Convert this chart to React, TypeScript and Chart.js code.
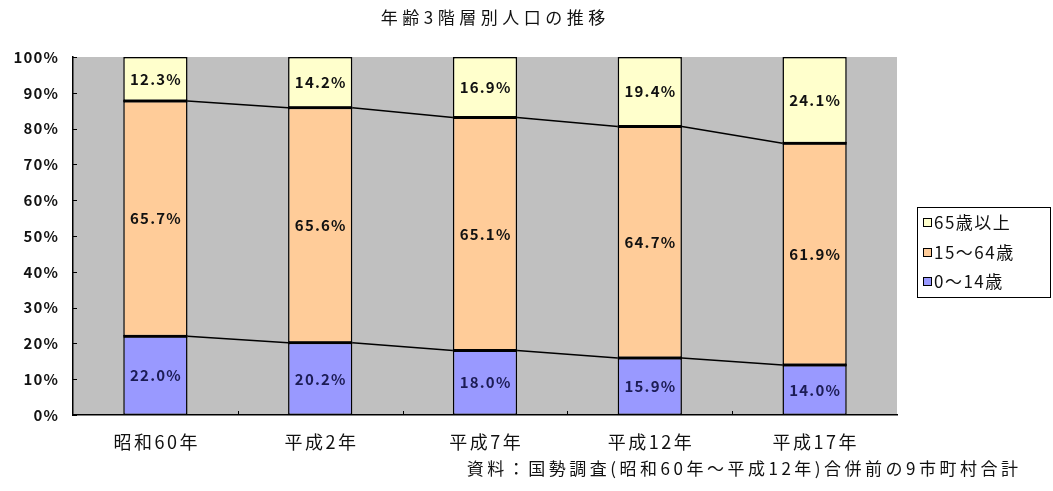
import React, { useEffect, useRef } from "react";
import { Chart, registerables } from "chart.js";

Chart.register(...registerables);

const categories = ["昭和60年", "平成2年", "平成7年", "平成12年", "平成17年"];
const age0to14 = [22.0, 20.2, 18.0, 15.9, 14.0];
const age15to64 = [65.7, 65.6, 65.1, 64.7, 61.9];
const age65plus = [12.3, 14.2, 16.9, 19.4, 24.1];
const seriesNames = ["0～14歳", "15～64歳", "65歳以上"];
const seriesColors = ["#9999FF", "#FFCC99", "#FFFFCC"];
const yTicks = [0, 10, 20, 30, 40, 50, 60, 70, 80, 90, 100];
const titleText = "年齢3階層別人口の推移";
const sourceText = "資料：国勢調査(昭和60年～平成12年)合併前の9市町村合計";

const FONT = '"Noto Sans CJK JP", "Noto Sans", sans-serif';

function spacedText(ctx: any, text: string, x: number, y: number, spacing: number, align: string) {
  ctx.letterSpacing = spacing + "px";
  const w = ctx.measureText(text).width - spacing;
  let sx = x;
  if (align === "center") sx = x - w / 2;
  else if (align === "right") sx = x - w;
  ctx.textAlign = "left";
  ctx.fillText(text, sx, y);
  ctx.letterSpacing = "0px";
}

const decorPlugin = {
  id: "decor",
  beforeDraw(chart: any) {
    const { ctx, chartArea } = chart;
    ctx.save();
    ctx.fillStyle = "#ffffff";
    ctx.fillRect(0, 0, chart.width, chart.height);
    ctx.fillStyle = "#C0C0C0";
    ctx.fillRect(chartArea.left, chartArea.top, chartArea.right - chartArea.left, chartArea.bottom - chartArea.top);
    ctx.restore();
  },
  afterDatasetsDraw(chart: any) {
    const { ctx, chartArea } = chart;
    ctx.save();
    // series lines between stacked segment tops, and segment boundaries
    ctx.strokeStyle = "#000000";
    for (let d = 0; d < 2; d++) {
      const meta = chart.getDatasetMeta(d);
      for (let i = 0; i < meta.data.length; i++) {
        const a = meta.data[i] as any;
        ctx.lineWidth = 2.5;
        ctx.beginPath();
        ctx.moveTo(a.x - a.width / 2, a.y);
        ctx.lineTo(a.x + a.width / 2, a.y);
        ctx.stroke();
        if (i < meta.data.length - 1) {
          const b = meta.data[i + 1] as any;
          ctx.lineWidth = 1.5;
          ctx.beginPath();
          ctx.moveTo(a.x + a.width / 2, a.y);
          ctx.lineTo(b.x - b.width / 2, b.y);
          ctx.stroke();
        }
      }
    }
    // data labels
    ctx.font = "bold 15px " + FONT;
    ctx.textBaseline = "middle";
    chart.data.datasets.forEach((ds: any, d: number) => {
      const meta = chart.getDatasetMeta(d);
      meta.data.forEach((el: any, i: number) => {
        ctx.fillStyle = d === 0 ? "#1c1c55" : "#111111";
        const v = ds.data[i] as number;
        spacedText(ctx, v.toFixed(1) + "%", el.x, (el.y + el.base) / 2, 1.2, "center");
      });
    });
    // inward tick marks
    const yScale = chart.scales.y;
    ctx.strokeStyle = "#000000";
    ctx.lineWidth = 1;
    yScale.ticks.forEach((t: any) => {
      const y = Math.round(yScale.getPixelForValue(t.value)) + 0.5;
      ctx.beginPath();
      ctx.moveTo(chartArea.left, y);
      ctx.lineTo(chartArea.left + 4, y);
      ctx.stroke();
    });
    const xScale = chart.scales.x;
    for (let i = 1; i < categories.length; i++) {
      const x = Math.round((xScale.getPixelForValue(i - 1) + xScale.getPixelForValue(i)) / 2) + 0.5;
      ctx.beginPath();
      ctx.moveTo(x, chartArea.bottom);
      ctx.lineTo(x, chartArea.bottom - 4);
      ctx.stroke();
    }
    // axis tick labels
    ctx.fillStyle = "#111111";
    ctx.font = "bold 15px " + FONT;
    yScale.ticks.forEach((t: any) => {
      spacedText(ctx, t.value + "%", 58, yScale.getPixelForValue(t.value), 1.2, "right");
    });
    ctx.font = "18px " + FONT;
    categories.forEach((c, i) => {
      spacedText(ctx, c, xScale.getPixelForValue(i), 442, 2.5, "center");
    });
    ctx.restore();
  },
  afterDraw(chart: any) {
    const { ctx } = chart;
    ctx.save();
    ctx.textBaseline = "middle";
    // title
    ctx.fillStyle = "#111111";
    ctx.font = "17px " + FONT;
    spacedText(ctx, titleText, 493, 18, 4.5, "center");
    // source note
    ctx.font = "17px " + FONT;
    spacedText(ctx, sourceText, 1018, 469, 3.5, "right");
    // legend
    const lx = 917, ly = 207, lw = 133, lh = 90;
    ctx.strokeStyle = "#000000";
    ctx.lineWidth = 1;
    ctx.strokeRect(lx + 0.5, ly + 0.5, lw, lh);
    const rows = [2, 1, 0];
    const rowY = [223, 253, 282];
    ctx.font = "17px " + FONT;
    rows.forEach((d, k) => {
      const y = rowY[k];
      ctx.fillStyle = seriesColors[d];
      ctx.fillRect(923, y - 5, 9, 9);
      ctx.strokeStyle = "#000000";
      ctx.strokeRect(923.5, y - 4.5, 8, 8);
      ctx.fillStyle = "#111111";
      spacedText(ctx, seriesNames[d], 934, y, 1.5, "left");
    });
    ctx.restore();
  },
};

export default function App() {
  const ref = useRef<HTMLCanvasElement | null>(null);
  useEffect(() => {
    if (!ref.current) return;
    const values = [age0to14, age15to64, age65plus];
    const chart = new Chart(ref.current, {
      type: "bar",
      data: {
        labels: categories,
        datasets: values.map((v, d) => ({
          label: seriesNames[d],
          data: v,
          backgroundColor: seriesColors[d],
          borderColor: "#000000",
          borderWidth: 1.5,
          borderSkipped: false,
          barPercentage: 0.39,
          categoryPercentage: 1,
        })),
      },
      options: {
        responsive: false,
        animation: false,
        events: [],
        layout: { padding: { left: 0, right: 156, top: 57, bottom: 0 } },
        plugins: { legend: { display: false }, title: { display: false }, tooltip: { enabled: false } },
        scales: {
          x: {
            stacked: true,
            grid: { display: false, drawTicks: false },
            border: { display: true, color: "#000000", width: 1.5 },
            ticks: { display: false },
            afterFit: (s: any) => { s.height = 76; },
          },
          y: {
            stacked: true,
            min: 0,
            max: 100,
            afterBuildTicks: (s: any) => { s.ticks = yTicks.map((v) => ({ value: v })); },
            grid: { display: false, drawTicks: false },
            border: { display: true, color: "#000000", width: 1.5 },
            ticks: { display: false },
            afterFit: (s: any) => { s.width = 73; },
          },
        },
      },
      plugins: [decorPlugin],
    });
    return () => chart.destroy();
  }, []);
  return (
    <div style={{ position: "fixed", left: 0, top: 0, width: 1053, height: 491, background: "#fff" }}>
      <canvas ref={ref} width={1053} height={491} />
    </div>
  );
}
